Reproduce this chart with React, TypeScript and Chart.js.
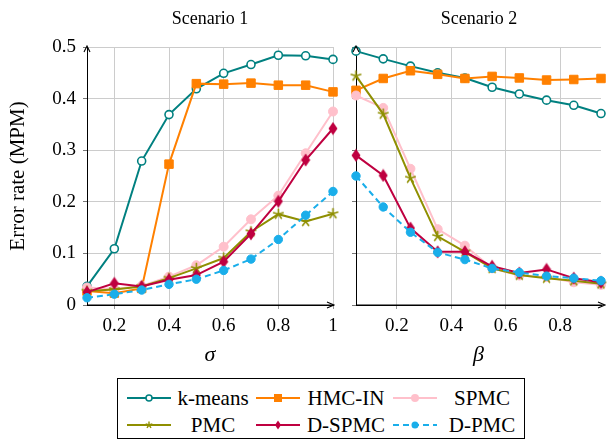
import React, { useEffect, useRef } from 'react';
import { Chart, registerables } from 'chart.js';
Chart.register(...registerables);

// ---------- data ----------
const sigma = [0.1, 0.2, 0.3, 0.4, 0.5, 0.6, 0.7, 0.8, 0.9, 1.0];
const beta = [0.05, 0.15, 0.25, 0.35, 0.45, 0.55, 0.65, 0.75, 0.85, 0.95];

const seriesNames = ['k-means', 'HMC-IN', 'SPMC', 'PMC', 'D-SPMC', 'D-PMC'];

const kmeans1 = [0.036, 0.109, 0.279, 0.369, 0.419, 0.449, 0.466, 0.484, 0.483, 0.476];
const hmc1 = [0.027, 0.023, 0.032, 0.273, 0.429, 0.428, 0.43, 0.426, 0.426, 0.413];
const spmc1 = [0.034, 0.031, 0.037, 0.055, 0.077, 0.113, 0.166, 0.212, 0.294, 0.375];
const pmc1 = [0.027, 0.03, 0.036, 0.052, 0.071, 0.091, 0.142, 0.176, 0.162, 0.177];
const dspmc1 = [0.025, 0.042, 0.036, 0.049, 0.058, 0.084, 0.138, 0.201, 0.281, 0.342];
const dpmc1 = [0.014, 0.021, 0.029, 0.04, 0.05, 0.067, 0.089, 0.127, 0.174, 0.22];

const kmeans2 = [0.492, 0.477, 0.463, 0.45, 0.44, 0.422, 0.409, 0.397, 0.387, 0.371];
const hmc2 = [0.416, 0.439, 0.454, 0.447, 0.439, 0.443, 0.44, 0.436, 0.437, 0.439];
const spmc2 = [0.406, 0.382, 0.264, 0.147, 0.115, 0.071, 0.057, 0.054, 0.044, 0.039];
const pmc2 = [0.444, 0.37, 0.246, 0.133, 0.103, 0.071, 0.058, 0.052, 0.047, 0.041];
const dspmc2 = [0.29, 0.251, 0.149, 0.103, 0.103, 0.075, 0.062, 0.069, 0.052, 0.044];
const dpmc2 = [0.25, 0.19, 0.141, 0.102, 0.088, 0.071, 0.063, 0.056, 0.052, 0.047];

const yTicks = [0, 0.1, 0.2, 0.3, 0.4, 0.5];
const xTicks1 = [0.2, 0.4, 0.6, 0.8, 1];
const xTicks2 = [0.2, 0.4, 0.6, 0.8];

const panelTitles = ['Scenario 1', 'Scenario 2'];
const yTitle = 'Error rate (MPM)';

// ---------- styles ----------
const colors = ['#008080', '#ff8000', '#ffc0cb', '#8f8f00', '#bf0040', '#1aaeea'];
const SERIF = '"Liberation Serif", "DejaVu Serif", serif';

function makeDiamond(color: string) {
  const c = document.createElement('canvas');
  c.width = 10; c.height = 14;
  const g = c.getContext('2d')!;
  g.fillStyle = color;
  g.beginPath();
  g.moveTo(5, 0.5); g.lineTo(9.5, 7); g.lineTo(5, 13.5); g.lineTo(0.5, 7);
  g.closePath(); g.fill();
  return c;
}
function makeStar(color: string) {
  const c = document.createElement('canvas');
  c.width = 13; c.height = 13;
  const g = c.getContext('2d')!;
  g.strokeStyle = color; g.lineWidth = 1.6; g.lineCap = 'round';
  g.beginPath();
  for (let k = 0; k < 5; k++) {
    const a = -Math.PI / 2 + (k * 2 * Math.PI) / 5;
    g.moveTo(6.5, 6.5);
    g.lineTo(6.5 + 5 * Math.cos(a), 6.5 + 5 * Math.sin(a));
  }
  g.stroke();
  return c;
}

const arrowPlugin = {
  id: 'axisArrows',
  afterDraw(chart: any) {
    const { ctx, chartArea } = chart;
    const { left, right, top, bottom } = chartArea;
    const ext = chart.options.plugins.axisArrows?.ext ?? 0;
    ctx.save();
    ctx.strokeStyle = '#000';
    ctx.lineWidth = 1.1;
    ctx.beginPath();
    ctx.moveTo(left, bottom); ctx.lineTo(right + ext, bottom);
    ctx.stroke();
    ctx.beginPath();
    ctx.moveTo(left - 3, top + 5); ctx.lineTo(left, top - 1); ctx.lineTo(left + 3, top + 5);
    ctx.moveTo(right + ext - 6, bottom - 3); ctx.lineTo(right + ext + 1, bottom); ctx.lineTo(right + ext - 6, bottom + 3);
    ctx.stroke();
    ctx.restore();
  },
};

function buildDatasets(xs: number[], series: number[][]) {
  const diamond = makeDiamond(colors[4]);
  const star = makeStar(colors[3]);
  const styles: any[] = [
    { pointStyle: 'circle', pointRadius: 4, pointBackgroundColor: '#fff', pointBorderWidth: 1.6 },
    { pointStyle: 'rect', pointRadius: 6, pointBackgroundColor: colors[1], pointBorderWidth: 1 },
    { pointStyle: 'circle', pointRadius: 4.5, pointBackgroundColor: colors[2], pointBorderWidth: 1 },
    { pointStyle: star, pointRadius: 4 },
    { pointStyle: diamond, pointRadius: 4 },
    { pointStyle: 'circle', pointRadius: 4.2, pointBackgroundColor: colors[5], pointBorderWidth: 1, borderDash: [6, 4] },
  ];
  return series.map((vals, i) => ({
    label: seriesNames[i],
    data: vals.map((v, j) => ({ x: xs[j], y: v })),
    borderColor: colors[i],
    pointBorderColor: colors[i],
    borderWidth: 2,
    tension: 0,
    clip: false,
    order: series.length - i,
    ...styles[i],
  }));
}

function makeConfig(xs: number[], series: number[][], panel: 1 | 2): any {
  const isLeft = panel === 1;
  const xt = isLeft ? xTicks1 : xTicks2;
  return {
    type: 'line',
    data: { datasets: buildDatasets(xs, series) },
    plugins: [arrowPlugin],
    options: {
      animation: false,
      responsive: false,
      events: [],
      layout: { padding: { top: 47, right: isLeft ? 12 : 7, left: 0, bottom: 0 } },
      plugins: {
        legend: { display: false },
        tooltip: { enabled: false },
        title: { display: false },
        axisArrows: { ext: isLeft ? 0 : 3 },
      },
      scales: {
        x: {
          type: 'linear',
          min: isLeft ? 0.1 : 0.05,
          max: isLeft ? 1 : 0.95,
          afterBuildTicks: (s: any) => { s.ticks = xt.map((value) => ({ value })); },
          afterFit: (s: any) => { s.height = 65; },
          ticks: {
            autoSkip: false,
            maxRotation: 0,
            padding: 6,
            color: '#000',
            font: { family: SERIF, size: 19 },
            callback: (v: number) => (v === 1 ? '1' : Number(v).toFixed(1)),
          },
          grid: { color: '#cccccc', lineWidth: 1, tickLength: 4, tickColor: '#999' },
          border: { display: true, color: '#000', width: 1 },
          title: {
            display: true,
            text: isLeft ? 'σ' : 'β',
            color: '#000',
            font: { family: SERIF, size: 22, style: 'italic' },
            padding: { top: 0, bottom: 2 },
          },
        },
        y: {
          type: 'linear',
          min: 0,
          max: 0.5,
          afterBuildTicks: (s: any) => { s.ticks = yTicks.map((value) => ({ value })); },
          afterFit: (s: any) => { s.width = isLeft ? 87 : 11; },
          ticks: {
            display: isLeft,
            padding: 7,
            color: '#000',
            font: { family: SERIF, size: 19 },
            callback: (v: number) => String(Math.round(v * 10) / 10),
          },
          grid: {
            color: (c: any) => (c.tick && c.tick.value === 0 ? 'rgba(0,0,0,0)' : '#cccccc'),
            lineWidth: 1,
            tickLength: 4,
            tickColor: '#777',
          },
          border: { display: true, color: '#000', width: 1 },
          title: {
            display: isLeft,
            text: yTitle,
            color: '#000',
            font: { family: SERIF, size: 21 },
            padding: { top: 6, bottom: 0 },
          },
        },
      },
    },
  };
}

function ChartPanel(props: { xs: number[]; series: number[][]; panel: 1 | 2; left: number; width: number }) {
  const ref = useRef<HTMLCanvasElement>(null);
  useEffect(() => {
    const chart = new Chart(ref.current!, makeConfig(props.xs, props.series, props.panel));
    return () => chart.destroy();
  }, []);
  return (
    <canvas
      ref={ref}
      width={props.width}
      height={370}
      style={{ position: 'absolute', left: props.left, top: 0, width: props.width, height: 370 }}
    />
  );
}

function LegendMarker({ i }: { i: number }) {
  const c = colors[i];
  const cx = 22, cy = 8;
  let marker: any = null;
  if (i === 0) marker = <circle cx={cx} cy={cy} r={3} fill="#fff" stroke={c} strokeWidth={1.5} />;
  if (i === 1) marker = <rect x={cx - 4} y={cy - 4} width={8} height={8} fill={c} />;
  if (i === 2) marker = <circle cx={cx} cy={cy} r={4} fill={c} />;
  if (i === 3) {
    const lines = [];
    for (let k = 0; k < 5; k++) {
      const a = -Math.PI / 2 + (k * 2 * Math.PI) / 5;
      lines.push(<line key={k} x1={cx} y1={cy} x2={cx + 3.5 * Math.cos(a)} y2={cy + 3.5 * Math.sin(a)} stroke={c} strokeWidth={1.4} />);
    }
    marker = <g>{lines}</g>;
  }
  if (i === 4) marker = <polygon points={`${cx},${cy - 4.5} ${cx + 3},${cy} ${cx},${cy + 4.5} ${cx - 3},${cy}`} fill={c} />;
  if (i === 5) marker = <circle cx={cx} cy={cy} r={3.5} fill={c} />;
  return (
    <svg width={44} height={16} style={{ position: 'absolute', left: 0, top: -8, overflow: 'visible' }}>
      <line x1={0} y1={cy} x2={44} y2={cy} stroke={c} strokeWidth={2} strokeDasharray={i === 5 ? '6 4' : undefined} />
      {marker}
    </svg>
  );
}

const legendLineX = [127, 256, 393];
const legendTextCenter = [213, 346, 482];
const legendRowY = [398, 425];

function Legend() {
  return (
    <>
      <div style={{ position: 'absolute', left: 117, top: 378, width: 408, height: 61, border: '1px solid #000', boxSizing: 'border-box', background: '#fff' }} />
      {seriesNames.map((name, i) => {
        const col = i % 3, row = Math.floor(i / 3);
        return (
          <React.Fragment key={name}>
            <div style={{ position: 'absolute', left: legendLineX[col], top: legendRowY[row] }}>
              <LegendMarker i={i} />
            </div>
            <div
              style={{
                position: 'absolute',
                left: legendTextCenter[col] - 50,
                width: 100,
                top: legendRowY[row] - 13,
                height: 26,
                lineHeight: '26px',
                textAlign: 'center',
                fontFamily: SERIF,
                fontSize: 21,
                color: '#000',
                whiteSpace: 'nowrap',
              }}
            >
              {name}
            </div>
          </React.Fragment>
        );
      })}
    </>
  );
}

export default function App() {
  const s1 = [kmeans1, hmc1, spmc1, pmc1, dspmc1, dpmc1];
  const s2 = [kmeans2, hmc2, spmc2, pmc2, dspmc2, dpmc2];
  const titleCenters = [210, 479];
  return (
    <div style={{ position: 'fixed', left: 0, top: 0, width: 608, height: 443, background: '#fff', overflow: 'hidden' }}>
      <ChartPanel xs={sigma} series={s1} panel={1} left={0} width={345} />
      <ChartPanel xs={beta} series={s2} panel={2} left={345} width={263} />
      {panelTitles.map((t, i) => (
        <div
          key={t}
          style={{
            position: 'absolute',
            left: titleCenters[i] - 80,
            width: 160,
            top: 6,
            height: 24,
            lineHeight: '24px',
            textAlign: 'center',
            fontFamily: SERIF,
            fontSize: 18,
            color: '#000',
          }}
        >
          {t}
        </div>
      ))}
      <Legend />
    </div>
  );
}
